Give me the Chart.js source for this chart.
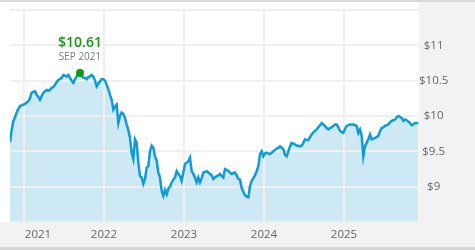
<!DOCTYPE html>
<html>
<head>
<meta charset="utf-8">
<script src="https://cdn.jsdelivr.net/npm/chart.js@4/dist/chart.umd.min.js"></script>
<style>
  html, body { margin: 0; padding: 0; }
  body { width: 475px; height: 250px; overflow: hidden; background: #f2f2f2; position: relative; }
  #topline { position: absolute; left: 0; top: 0; width: 475px; height: 2px; background: #dadada; }
  #botline { position: absolute; left: 0; top: 247px; width: 475px; height: 3px; background: #d6d6d6; }
  #plotbg { position: absolute; left: 0; top: 2px; width: 419px; height: 220px; background: #ffffff; }
  #wrap { position: absolute; left: 0; top: 0; width: 475px; height: 250px; }
</style>
</head>
<body>
<div id="topline"></div>
<div id="plotbg"></div>
<div id="botline"></div>
<div id="wrap"><canvas id="c" width="475" height="250"></canvas></div>
<script>
// ---- data ----
const startYear = 2020.825;      // first sample (decimal year)
const stepYears = 1 / 48;        // sample spacing
const navValues = [
  9.63, 9.80, 9.93, 9.98, 10.05, 10.10, 10.14, 10.15, 10.16, 10.17,
  10.19, 10.21, 10.25, 10.33, 10.34, 10.35, 10.30, 10.27, 10.23, 10.28,
  10.33, 10.35, 10.37, 10.36, 10.37, 10.40, 10.41, 10.44, 10.48, 10.51,
  10.52, 10.54, 10.58, 10.57, 10.56, 10.58, 10.54, 10.50, 10.47, 10.52,
  10.56, 10.59, 10.61, 10.57, 10.54, 10.54, 10.52, 10.55, 10.56, 10.58,
  10.56, 10.50, 10.42, 10.46, 10.49, 10.52, 10.52, 10.50, 10.44, 10.38,
  10.30, 10.23, 10.09, 10.13, 10.16, 9.90, 10.00, 10.05, 10.03, 9.97,
  9.88, 9.80, 9.69, 9.48, 9.39, 9.67, 9.62, 9.34, 9.15, 9.13,
  9.04, 9.11, 9.27, 9.29, 9.50, 9.58, 9.55, 9.43, 9.37, 9.20,
  9.13, 8.94, 8.87, 8.95, 8.89, 8.97, 9.00, 9.06, 9.10, 9.13,
  9.22, 9.18, 9.15, 9.08, 9.20, 9.32, 9.34, 9.36, 9.41, 9.22,
  9.18, 9.13, 9.06, 9.13, 9.06, 9.12, 9.20, 9.21, 9.22, 9.20,
  9.18, 9.16, 9.11, 9.13, 9.15, 9.16, 9.18, 9.15, 9.13, 9.25,
  9.24, 9.22, 9.20, 9.18, 9.19, 9.20, 9.16, 9.11, 9.10, 8.98,
  8.93, 8.88, 8.86, 8.85, 9.01, 9.08, 9.12, 9.16, 9.22, 9.29,
  9.46, 9.50, 9.43, 9.47, 9.48, 9.47, 9.46, 9.48, 9.50, 9.52,
  9.54, 9.55, 9.57, 9.55, 9.53, 9.45, 9.43, 9.50, 9.57, 9.62,
  9.61, 9.60, 9.58, 9.58, 9.57, 9.58, 9.62, 9.67, 9.66, 9.66,
  9.70, 9.74, 9.77, 9.79, 9.81, 9.84, 9.87, 9.90, 9.88, 9.86,
  9.83, 9.81, 9.83, 9.84, 9.86, 9.88, 9.88, 9.84, 9.79, 9.77,
  9.76, 9.82, 9.86, 9.87, 9.88, 9.88, 9.88, 9.87, 9.86, 9.76,
  9.81, 9.72, 9.43, 9.57, 9.62, 9.67, 9.74, 9.67, 9.68, 9.69,
  9.70, 9.72, 9.78, 9.83, 9.84, 9.86, 9.87, 9.88, 9.91, 9.93,
  9.94, 9.95, 9.98, 10.00, 9.99, 9.97, 9.93, 9.95, 9.94, 9.92,
  9.90, 9.87, 9.88, 9.90, 9.90, 9.90
];
const yearTicks = [2021, 2022, 2023, 2024, 2025];
const yearLabels = ['2021', '2022', '2023', '2024', '2025'];
const yearLabelPos = [2021.175, 2022, 2023, 2024, 2025];
const priceTicks = [8.5, 9, 9.5, 10, 10.5, 11, 11.5];
const priceLabeled = [9, 9.5, 10, 10.5, 11];
const monthNames = ['JAN','FEB','MAR','APR','MAY','JUN','JUL','AUG','SEP','OCT','NOV','DEC'];

// ---- build ----
const points = navValues.map((v, i) => ({ x: startYear + i * stepYears, y: v }));
let peakIdx = 0;
navValues.forEach((v, i) => { if (v > navValues[peakIdx]) peakIdx = i; });
const peakYear = points[peakIdx].x;
const peakMonth = monthNames[Math.floor((peakYear - Math.floor(peakYear)) * 12)];
const peakDate = peakMonth + ' ' + Math.floor(peakYear);
const peakText = '$' + navValues[peakIdx].toFixed(2);

const GREEN = '#129a12';
const FONT = "'Open Sans', 'Noto Sans', sans-serif";

const peakLabelPlugin = {
  id: 'peakLabel',
  afterDatasetsDraw(chart) {
    const ctx = chart.ctx;
    const xs = chart.scales.x, ys = chart.scales.y;
    const px = xs.getPixelForValue(points[peakIdx].x);
    const py = ys.getPixelForValue(points[peakIdx].y);
    ctx.save();
    ctx.textAlign = 'center';
    ctx.textBaseline = 'middle';
    ctx.fillStyle = GREEN;
    ctx.font = "600 14px " + FONT;
    ctx.fillText(peakText, px, py - 30);
    ctx.fillStyle = '#7a7a7a';
    ctx.font = "10px " + FONT;
    ctx.fillText(peakDate, px, py - 16);
    ctx.restore();
  }
};

new Chart(document.getElementById('c'), {
  type: 'line',
  data: {
    datasets: [{
      data: points,
      borderColor: '#0f9ad8',
      borderWidth: 2.5,
      backgroundColor: '#cde9f6',
      fill: 'start',
      tension: 0,
      pointRadius: navValues.map((v, i) => i === peakIdx ? 4 : 0),
      pointHoverRadius: 0,
      pointBackgroundColor: GREEN,
      pointBorderWidth: 0,
      xAxisID: 'x',
      yAxisID: 'y'
    }]
  },
  options: {
    responsive: false,
    animation: false,
    events: [],
    layout: { padding: { left: 10, top: 10, right: 0, bottom: 0 } },
    plugins: {
      legend: { display: false },
      tooltip: { enabled: false },
      filler: { drawTime: 'beforeDraw' }
    },
    scales: {
      x: {
        type: 'linear',
        position: 'bottom',
        min: 2020.825,
        max: 2025.9375,
        afterBuildTicks: (s) => { s.ticks = yearTicks.map(v => ({ value: v })); },
        ticks: { display: false },
        grid: { color: '#f0f0f0', lineWidth: 2, drawTicks: false },
        border: { display: false },
        afterFit: (s) => { s.height = 0; }
      },
      x2: {
        type: 'linear',
        position: 'bottom',
        min: 2020.825,
        max: 2025.9375,
        afterBuildTicks: (s) => { s.ticks = yearLabelPos.map(v => ({ value: v })); },
        ticks: {
          autoSkip: false,
          maxRotation: 0,
          padding: 6,
          color: '#666666',
          font: { family: FONT, size: 11.5 },
          callback: (v, i) => yearLabels[i]
        },
        grid: { display: false, drawTicks: false },
        border: { display: false },
        afterFit: (s) => { s.height = 28; }
      },
      y: {
        type: 'linear',
        position: 'right',
        min: 8.5,
        max: 11.5,
        afterBuildTicks: (s) => { s.ticks = priceTicks.map(v => ({ value: v })); },
        ticks: {
          autoSkip: false,
          crossAlign: 'center',
          padding: 0,
          color: '#666666',
          font: { family: FONT, size: 11.5 },
          callback: (v) => priceLabeled.includes(v) ? '$' + v : ''
        },
        grid: { color: '#f0f0f0', lineWidth: 2, drawTicks: false },
        border: { display: false },
        afterFit: (s) => { s.width = 56; }
      }
    }
  },
  plugins: [peakLabelPlugin]
});
</script>
</body>
</html>
